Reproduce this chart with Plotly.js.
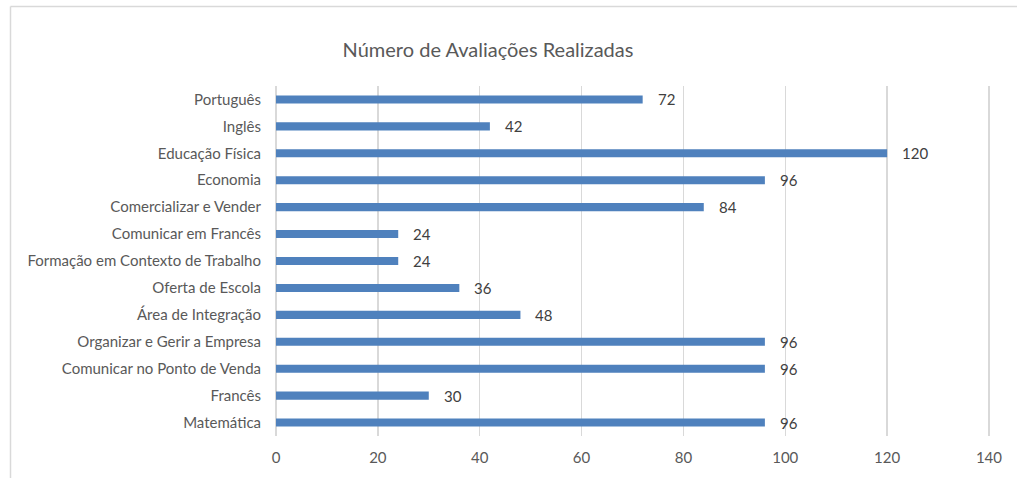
<!DOCTYPE html>
<html>
<head>
<meta charset="utf-8">
<script src="https://cdn.plot.ly/plotly-3.0.1.min.js"></script>
<style>html,body{margin:0;padding:0;background:#fff;}#chart{width:1017px;height:478px;}</style>
</head>
<body>
<div id="chart"></div>
<script>
const categories = ["Português","Inglês","Educação Física","Economia","Comercializar e Vender","Comunicar em Francês","Formação em Contexto de Trabalho","Oferta de Escola","Área de Integração","Organizar e Gerir a Empresa","Comunicar no Ponto de Venda","Francês","Matemática"];
const values = [72,42,120,96,84,24,24,36,48,96,96,30,96];
const xTicks = [0,20,40,60,80,100,120,140];
const chartTitle = "Número de Avaliações Realizadas";

const FONT = "Lato, 'Open Sans', sans-serif";
const L = 276, R = 26, T = 86, B = 42, W = 1017, H = 478;
const pw = W - L - R, ph = H - T - B;
const px = v => (v - L) / pw;
const py = v => 1 - (v - T) / ph;

const annotations = categories.map((c, i) => ({
  x: values[i], y: c, xref: 'x', yref: 'y', text: String(values[i]),
  showarrow: false, xanchor: 'left', xshift: 13,
  font: {family: FONT, size: 15, color: '#404040'}
}));

const layout = {
  width: W, height: H,
  margin: {l: L, r: R, t: T, b: B, pad: 0},
  paper_bgcolor: '#fff', plot_bgcolor: '#fff',
  title: {text: chartTitle, x: (488) / W, xanchor: 'center', y: 1 - 50 / H, yanchor: 'middle',
          font: {family: FONT, size: 20, color: '#595959'}},
  xaxis: {range: [0, 140.4], tickvals: xTicks, ticktext: xTicks.map(String),
          showgrid: true, gridcolor: '#d9d9d9', gridwidth: 1.3,
          zeroline: true, zerolinecolor: '#d9d9d9', zerolinewidth: 1.3,
          showline: false, ticks: 'outside', ticklen: 8, tickcolor: 'rgba(0,0,0,0)',
          tickfont: {family: FONT, size: 15, color: '#595959'}, fixedrange: true},
  yaxis: {type: 'category', autorange: 'reversed', showgrid: false, zeroline: false,
          showline: false, ticks: 'outside', ticklen: 11, tickcolor: 'rgba(0,0,0,0)',
          tickfont: {family: FONT, size: 15, color: '#595959'}, fixedrange: true},
  bargap: 0.7,
  showlegend: false,
  annotations: annotations,
  shapes: [
    {type: 'line', xref: 'paper', yref: 'paper', x0: px(10.5), x1: px(1030), y0: py(6.5), y1: py(6.5),
     line: {color: '#d9d9d9', width: 1.5}},
    {type: 'line', xref: 'paper', yref: 'paper', x0: px(10.5), x1: px(10.5), y0: py(6.5), y1: py(490),
     line: {color: '#d9d9d9', width: 1.5}}
  ]
};

Plotly.newPlot('chart', [{
  type: 'bar', orientation: 'h', x: values, y: categories,
  marker: {color: '#4f81bd'}, hoverinfo: 'none'
}], layout, {displayModeBar: false, staticPlot: true});
</script>
</body>
</html>
